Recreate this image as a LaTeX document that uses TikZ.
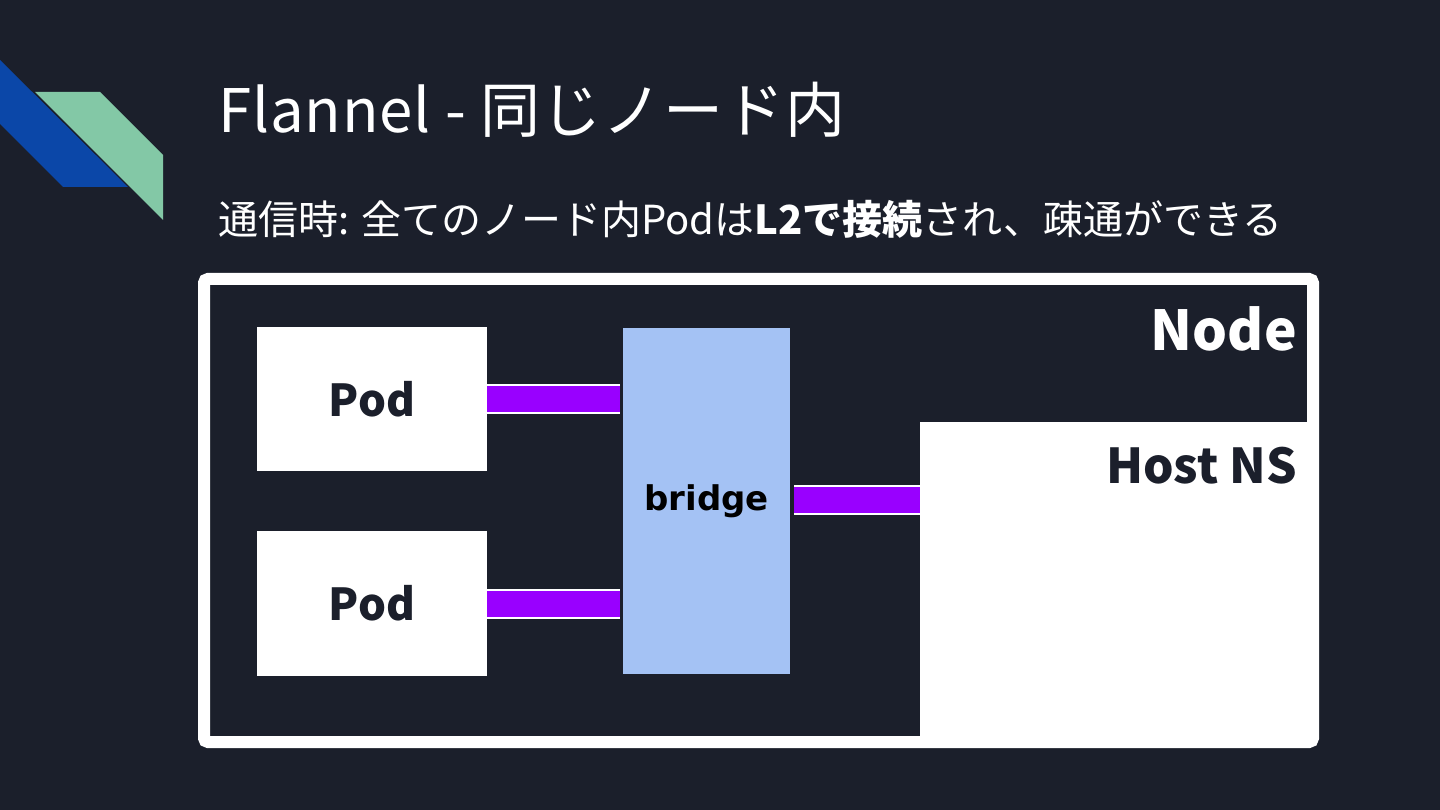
\documentclass[tikz,border=0pt]{standalone}
\usepackage{fontspec}
\setmainfont{Noto Sans}
\newfontfamily\cjk{Noto Sans CJK JP}
\newfontfamily\monob{DejaVu Sans}
\definecolor{bg}{HTML}{1B1F2B}
\definecolor{decoblue}{HTML}{0B47A8}
\definecolor{decogreen}{HTML}{83C8A6}
\definecolor{bridgeblue}{HTML}{A4C2F4}
\definecolor{vlink}{HTML}{9900FF}
\tikzset{
  podbox/.style={fill=white, inner sep=0pt, minimum width=230pt, font=\cjk\bfseries\fontsize{44}{48}\selectfont, text=bg},
  bridgebox/.style={fill=bridgeblue, inner sep=0pt, minimum width=167pt, minimum height=346pt, font=\monob\bfseries\fontsize{34}{38}\selectfont, text=black},
  vethlink/.style={draw=white, line width=2pt, double=vlink, double distance=26pt},
}
\begin{document}
\begin{tikzpicture}[x=1pt,y=-1pt]
\fill[bg] (0,0) rectangle (1440,810);
\useasboundingbox (0,0) rectangle (1440,810);
% decoration
\fill[decoblue] (0,60) -- (128,187) -- (63,187) -- (0,124) -- cycle;
\fill[decogreen] (35,92) -- (100,92) -- (163,155) -- (163,220) -- cycle;
% title
\node[anchor=base west, inner sep=0pt, text=white, font=\cjk\fontsize{60}{66}\selectfont] (title) at (218,133) {\addfontfeature{LetterSpace=1.5}Flannel - 同じノード内};
\node[anchor=base west, inner sep=0pt, text=white, font=\cjk\fontsize{40}{44}\selectfont] (subtitle) at (218,235) {通信時: 全てのノード内Podは\textbf{L2で接続}され、疎通ができる};
% node frame
\draw[white, line width=12pt, rounded corners=4pt] (204,279) rectangle (1313,742);
\node[fill=white, inner sep=0pt, minimum width=393pt, minimum height=320pt] (host) at (1116.5,582) {};
\node[anchor=base east, inner sep=0pt, text=white, font=\cjk\bfseries\fontsize{55}{60}\selectfont] (nodelbl) at (1297,350) {Node};
\node[anchor=base east, inner sep=0pt, text=bg, font=\cjk\bfseries\fontsize{48}{52}\selectfont] (hostlbl) at (1297,483) {Host NS};
% pods and bridge
\node[podbox, minimum height=144pt] (pod1) at (372,399) {Pod};
\node[podbox, minimum height=145pt] (pod2) at (372,603.5) {Pod};
\node[bridgebox] (bridge) at (706.5,501) {bridge};
% links
\draw[vethlink, shorten >=3pt] (pod1.east) -- (pod1.east -| bridge.west);
\draw[vethlink, shorten >=3pt] (pod2.east) -- (pod2.east -| bridge.west);
\coordinate (hb) at (bridge.east |- 0,500);
\draw[vethlink, shorten <=4pt] (hb) -- (hb -| host.west);
\end{tikzpicture}
\end{document}
